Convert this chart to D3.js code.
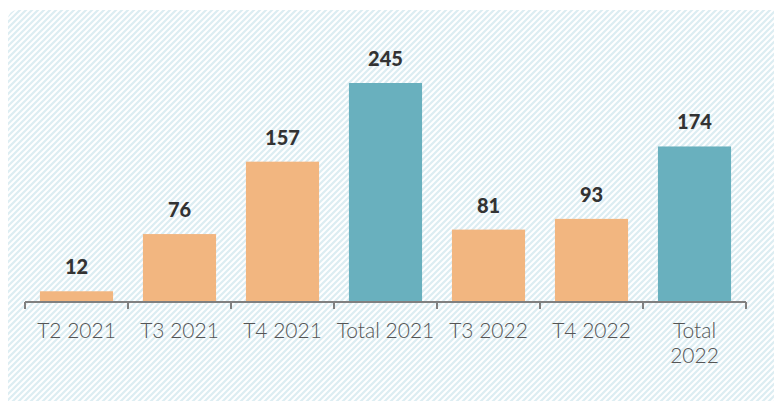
<!DOCTYPE html>
<html>
<head>
<meta charset="utf-8">
<script src="https://cdn.jsdelivr.net/npm/d3@7"></script>
<style>
  body { margin: 0; background: #fff; }
  svg { display: block; }
</style>
</head>
<body>
<svg id="chart"></svg>
<script>
// chart values
const categories = ["T2 2021", "T3 2021", "T4 2021", "Total 2021", "T3 2022", "T4 2022", "Total 2022"]
const values = [12, 76, 157, 245, 81, 93, 174]
const isTotal = [false, false, false, true, false, false, true]

const width = 774
const height = 401
const margin = { top: 83, right: 28, bottom: 99, left: 25 }

const svg = d3.select("#chart")
    .attr("width", width)
    .attr("height", height)

// hatched background
const defs = svg.append("defs")
const pat = defs.append("pattern")
    .attr("id", "hatch")
    .attr("patternUnits", "userSpaceOnUse")
    .attr("width", 6)
    .attr("height", 6)
pat.append("rect").attr("width", 6).attr("height", 6).attr("fill", "#fff")
pat.append("path")
    .attr("d", "M-1,1 l2,-2 M0,6 l6,-6 M5,7 l2,-2")
    .attr("stroke", "#dcedf2")
    .attr("stroke-width", 2.2)

svg.append("rect")
    .attr("x", 8)
    .attr("y", 10)
    .attr("width", 820)
    .attr("height", 450)
    .attr("rx", 9)
    .attr("fill", "url(#hatch)")

const data = categories.map((c, i) => ({ cat: c, value: values[i], total: isTotal[i] }))

const x = d3.scaleBand()
    .domain(categories)
    .range([margin.left, width - margin.right])
    .paddingInner(0.29)
    .paddingOuter(0.145)

const y = d3.scaleLinear()
    .domain([0, 245])
    .range([height - margin.bottom, margin.top])

const g = svg.append("g")

g.selectAll("rect.bar")
    .data(data)
    .enter().append("rect")
    .attr("class", "bar")
    .attr("x", d => x(d.cat))
    .attr("width", x.bandwidth())
    .attr("y", d => y(d.value))
    .attr("height", d => y(0) - y(d.value))
    .attr("fill", d => d.total ? "#69b0be" : "#f2b680")

g.selectAll("text.val")
    .data(data)
    .enter().append("text")
    .attr("class", "val")
    .attr("x", d => x(d.cat) + x.bandwidth() / 2)
    .attr("y", d => y(d.value) - 17)
    .attr("text-anchor", "middle")
    .style("font-family", "Lato, sans-serif")
    .style("font-weight", 900)
    .style("font-size", "20px")
    .style("fill", "#333333")
    .text(d => d.value)

// x axis with ticks on band boundaries
const step = x.step()
const x0 = margin.left
const axis = d3.axisBottom(x).tickSize(0).tickPadding(0)
const axisG = svg.append("g")
    .attr("transform", `translate(0, ${y(0)})`)
    .call(axis)

axisG.select(".domain")
    .attr("d", `M${x0},0H${width - margin.right}`)
    .attr("stroke", "#808080")
    .attr("stroke-width", 2)

axisG.selectAll(".boundary")
    .data(d3.range(categories.length + 1))
    .enter().append("line")
    .attr("class", "boundary")
    .attr("x1", i => x0 + i * step)
    .attr("x2", i => x0 + i * step)
    .attr("y1", 0)
    .attr("y2", 7)
    .attr("stroke", "#808080")
    .attr("stroke-width", 2)

axisG.selectAll(".tick text").remove()
axisG.selectAll(".tick").each(function(d) {
    const words = d === "Total 2022" ? ["Total", "2022"] : [d]
    const t = d3.select(this).append("text")
        .attr("text-anchor", "middle")
        .attr("fill", "#555555")
        .style("font-family", "Lato, sans-serif")
        .style("font-weight", 300)
        .style("font-size", "21px")
    words.forEach((w, i) => {
        t.append("tspan")
            .attr("x", 0)
            .attr("y", 36 + i * 25)
            .text(w)
    })
})
</script>
</body>
</html>
